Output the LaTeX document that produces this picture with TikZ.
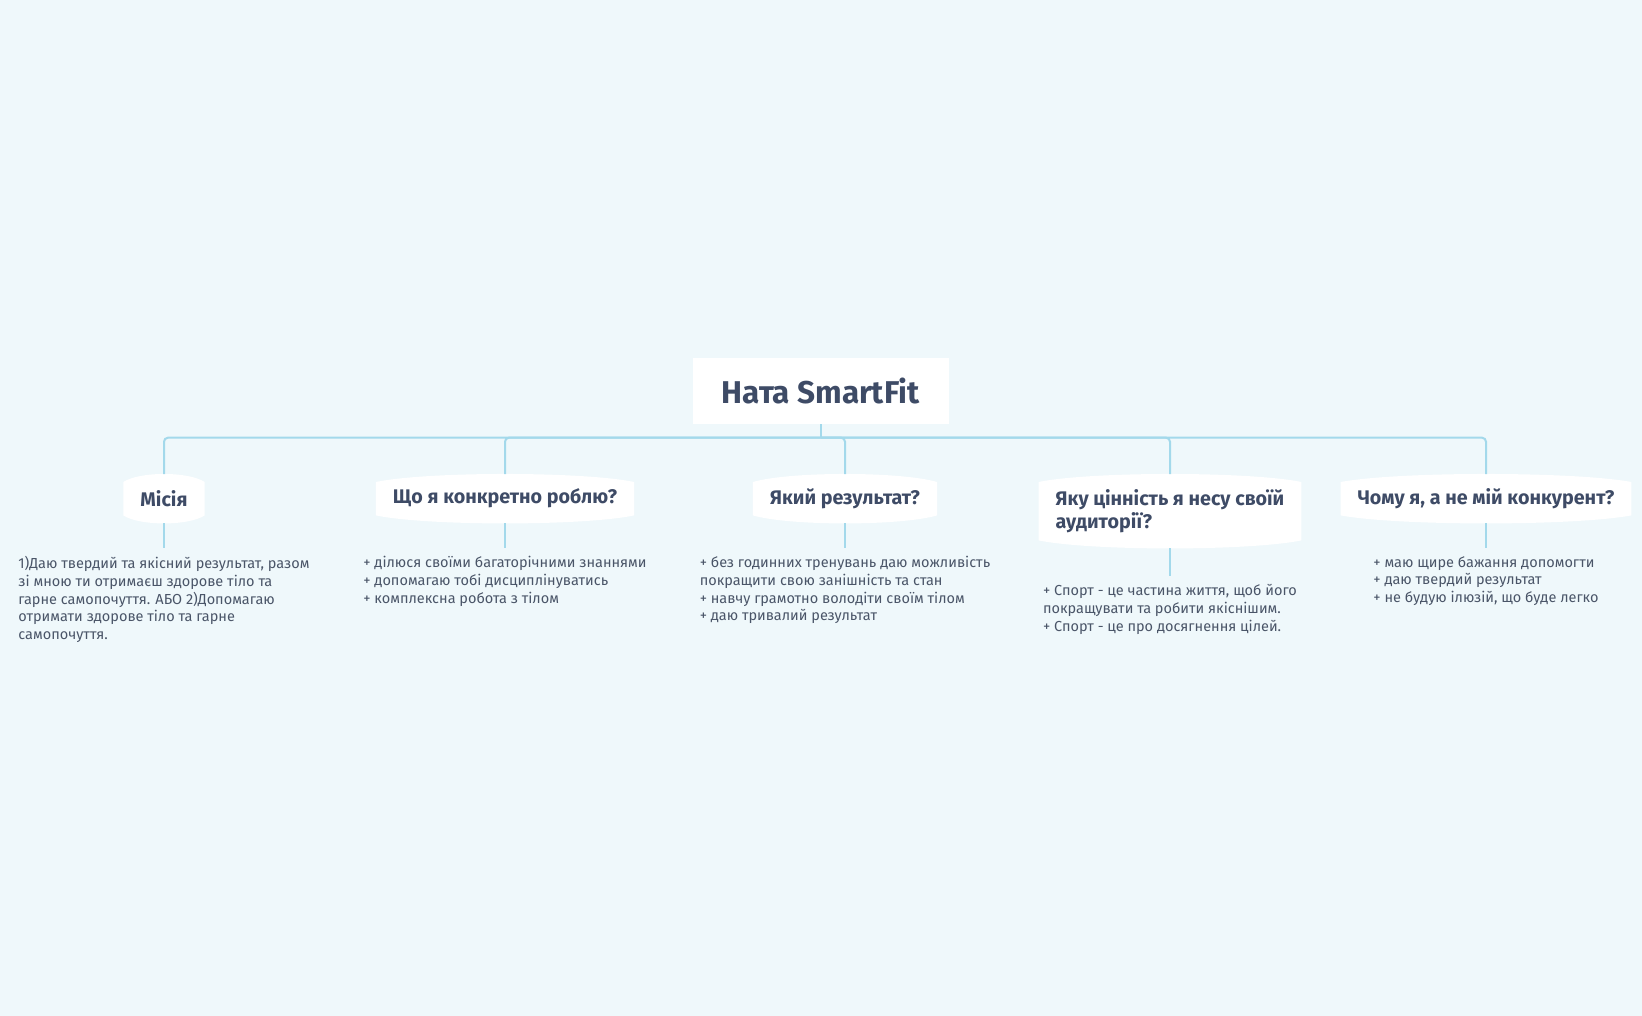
\documentclass[tikz,border=0pt]{standalone}
\usepackage{fontspec}
\setmainfont{Fira Sans}
\usetikzlibrary{backgrounds,calc}

\definecolor{bgblue}{HTML}{EFF8FB}
\definecolor{linkblue}{HTML}{A3D9EB}
\definecolor{titleink}{HTML}{3E4B66}
\definecolor{noteink}{HTML}{4A5568}

\tikzset{
  root/.style={fill=white, minimum width=256pt, minimum height=66pt, inner sep=0pt,
    font=\fontsize{31.5}{37}\selectfont\bfseries, text=titleink},
  topic/.style={anchor=north, inner xsep=17pt, inner ysep=0pt, minimum height=49pt,
    align=left, font=\fontsize{19.7}{23.5}\selectfont\bfseries, text=titleink},
  note/.style={anchor=north, align=left, inner xsep=0pt, inner ysep=8pt,
    font=\fontsize{14.5}{17.8}\selectfont, text=noteink},
  link/.style={draw=linkblue, line width=2pt, rounded corners=4pt},
}

% white topic shape with bulged top and bottom, behind node #1
\newcommand{\topicshape}[1]{%
  \fill[white] ([yshift=-8pt]#1.north west)
    .. controls ($(#1.north west)!0.2!(#1.north east)+(0,-2.7)$) and ($(#1.north west)!0.8!(#1.north east)+(0,-2.7)$) .. ([yshift=-8pt]#1.north east)
    -- ([yshift=8pt]#1.south east)
    .. controls ($(#1.south west)!0.8!(#1.south east)+(0,2.7)$) and ($(#1.south west)!0.2!(#1.south east)+(0,2.7)$) .. ([yshift=8pt]#1.south west)
    -- cycle;}

\begin{document}
\begin{tikzpicture}[x=1pt, y=-1pt]
  \useasboundingbox (0,0) rectangle (1642,1016);

  % central topic
  \node[root] (root) at (820.5,391) {Ната SmartFit};
  \coordinate (hub) at ($(root.south)+(0,13.5)$);

  % main topics
  \node[topic] (mis) at (164,474) {Місія};
  \node[topic] (what) at (505,474) {Що я конкретно роблю?};
  \node[topic] (res) at (845,474) {Який результат?};
  \node[topic, minimum height=74pt] (val) at (1170,474) {Яку цінність я несу своїй\\аудиторії?};
  \node[topic] (why) at (1486,474) {Чому я, а не мій конкурент?};

  % notes
  \node[note] (mis-n) at (164,548) {1)Даю твердий та якісний результат, разом\\зі мною ти отримаєш здорове тіло та\\гарне самопочуття. АБО 2)Допомагаю\\отримати здорове тіло та гарне\\самопочуття.};
  \node[note] (what-n) at (505,548) {+ ділюся своїми багаторічними знаннями\\+ допомагаю тобі дисциплінуватись\\+ комплексна робота з тілом};
  \node[note] (res-n) at (845,548) {+ без годинних тренувань даю можливість\\покращити свою занішність та стан\\+ навчу грамотно володіти своїм тілом\\+ даю тривалий результат};
  \node[note] (val-n) at (1170,576) {+ Спорт - це частина життя, щоб його\\покращувати та робити якіснішим.\\+ Спорт - це про досягнення цілей.};
  \node[note] (why-n) at (1486,548) {+ маю щире бажання допомогти\\+ даю твердий результат\\+ не будую ілюзій, що буде легко};

  % connectors
  \draw[link] (root.south) -- (hub);
  \foreach \n in {mis,what,res,val,why} {
    \draw[link] (hub) -| (\n.north);
    \draw[link] (\n.south) -- (\n-n.north);
  }

  \begin{scope}[on background layer]
    \fill[bgblue] (0,0) rectangle (1642,1016);
    \foreach \n in {mis,what,res,val,why} {\topicshape{\n}}
  \end{scope}
\end{tikzpicture}
\end{document}
